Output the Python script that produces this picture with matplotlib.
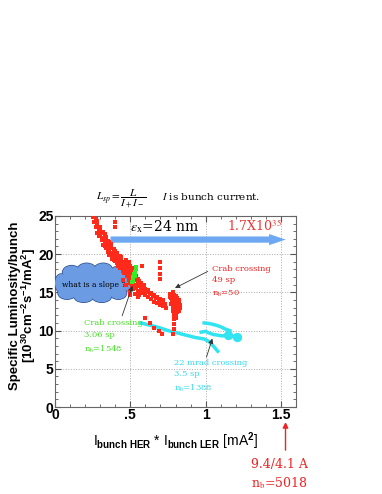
import matplotlib
matplotlib.use('Agg')
import matplotlib.pyplot as plt
from matplotlib.patches import Ellipse
from matplotlib.ticker import MultipleLocator

plt.rcParams['font.family'] = ['Liberation Sans', 'DejaVu Sans']
plt.rcParams['mathtext.fontset'] = 'custom'
plt.rcParams['mathtext.rm'] = 'Liberation Sans:bold'
plt.rcParams['mathtext.it'] = 'Liberation Sans:bold'
plt.rcParams['mathtext.bf'] = 'Liberation Sans:bold'

# crab crossing, 49 sp (red)
crab49 = [
    (0.25, 24.8), (0.26, 24.2), (0.27, 24.6), (0.27, 23.5), (0.28, 23.9), (0.28, 22.8),
    (0.29, 23.2), (0.30, 22.5), (0.30, 23.6), (0.31, 21.9), (0.31, 22.7), (0.32, 22.1),
    (0.32, 21.2), (0.33, 21.7), (0.33, 22.6), (0.34, 20.8), (0.34, 21.5), (0.35, 21.0),
    (0.35, 20.3), (0.36, 20.6), (0.36, 21.6), (0.37, 19.9), (0.37, 20.8), (0.38, 20.2),
    (0.38, 19.4), (0.39, 19.8), (0.39, 20.7), (0.40, 19.1), (0.40, 19.9), (0.41, 18.8),
    (0.41, 19.6), (0.42, 19.2), (0.42, 18.4), (0.43, 18.9), (0.43, 19.8), (0.44, 18.3),
    (0.44, 19.1), (0.45, 18.6), (0.45, 17.8), (0.46, 18.2), (0.46, 19.0), (0.47, 17.6),
    (0.47, 18.5), (0.48, 17.9), (0.48, 17.1), (0.48, 18.8), (0.49, 17.4), (0.49, 16.6),
    (0.49, 18.2), (0.50, 17.0), (0.50, 17.8), (0.50, 16.2), (0.51, 16.8), (0.51, 17.6),
    (0.51, 15.8), (0.52, 16.4), (0.52, 17.3), (0.52, 15.4), (0.53, 16.0), (0.53, 16.9),
    (0.53, 14.8), (0.54, 15.6), (0.54, 16.6), (0.55, 15.2), (0.55, 16.2), (0.56, 15.8),
    (0.56, 14.6), (0.57, 15.4), (0.58, 15.9), (0.58, 14.9), (0.59, 15.2), (0.60, 14.6),
    (0.61, 15.0), (0.62, 14.4), (0.63, 14.8), (0.64, 14.1), (0.65, 14.5), (0.66, 13.8),
    (0.67, 14.2), (0.68, 13.6), (0.69, 13.9), (0.70, 13.4), (0.71, 13.7), (0.72, 13.2),
    (0.73, 13.5), (0.74, 13.0),
    (0.26, 24.9), (0.28, 24.3), (0.29, 22.4), (0.30, 23.0), (0.32, 22.9), (0.33, 21.0),
    (0.34, 22.2), (0.35, 21.7), (0.36, 19.9), (0.37, 21.3), (0.39, 19.2), (0.40, 20.4),
    (0.41, 20.1), (0.42, 19.7), (0.43, 18.2), (0.44, 19.6), (0.46, 17.5), (0.47, 19.2),
    (0.49, 19.0), (0.50, 18.4), (0.51, 18.2), (0.52, 18.0), (0.53, 17.5), (0.54, 17.2),
    (0.55, 16.8), (0.56, 16.5), (0.55, 14.4), (0.57, 16.2), (0.59, 16.0), (0.60, 15.5),
    (0.62, 15.3), (0.64, 14.9), (0.66, 14.6), (0.68, 14.4), (0.70, 14.1), (0.72, 14.0),
    (0.76, 14.8), (0.77, 14.2), (0.77, 13.5), (0.78, 15.0), (0.78, 14.4), (0.78, 13.8),
    (0.78, 13.1), (0.78, 12.5), (0.79, 14.7), (0.79, 14.0), (0.79, 13.4), (0.79, 12.8),
    (0.79, 12.2), (0.80, 14.5), (0.80, 13.9), (0.80, 13.3), (0.80, 12.7), (0.80, 12.0),
    (0.81, 14.2), (0.81, 13.6), (0.81, 13.0), (0.81, 12.4), (0.82, 13.8), (0.82, 13.2),
    (0.82, 12.6), (0.83, 13.4), (0.83, 12.9), (0.765, 14.4), (0.775, 13.9), (0.785, 12.9),
    (0.795, 13.7), (0.805, 14.1), (0.815, 12.8), (0.825, 14.0), (0.805, 11.6), (0.79, 11.9),
    (0.79, 11.5), (0.79, 10.8), (0.79, 10.2), (0.78, 9.6), (0.60, 11.6), (0.63, 11.0),
    (0.66, 10.4), (0.69, 9.9), (0.71, 9.6),
    (0.70, 19.0), (0.70, 18.2), (0.70, 17.4), (0.70, 16.8), (0.40, 24.2), (0.40, 23.6),
    (0.58, 18.5), (0.45, 16.6), (0.47, 15.9), (0.50, 15.2), (0.50, 14.6),
]

# crab crossing, 3.06 sp (green)
crab306 = [(0.51, 16.3), (0.515, 16.7), (0.52, 17.0), (0.525, 17.4), (0.53, 17.7),
           (0.535, 18.0), (0.54, 18.3), (0.52, 16.5), (0.53, 17.2)]

# 22 mrad crossing, 3.5 sp (cyan)
mrad22_line = [(0.57, 11.0), (0.63, 10.7), (0.69, 10.4), (0.75, 10.0), (0.81, 9.7),
               (0.87, 9.4), (0.93, 9.1), (0.99, 8.9), (1.02, 8.6), (1.05, 8.0), (1.08, 7.3)]
mrad22_upper = [(0.99, 11.0), (1.03, 10.9), (1.07, 10.7), (1.10, 10.5), (1.13, 10.2), (1.16, 10.0)]
mrad22_lower = [(0.97, 9.8), (1.00, 9.9), (1.02, 9.7), (1.05, 9.5), (1.08, 9.4), (1.11, 9.3),
                (1.14, 9.4), (1.17, 9.2), (1.20, 9.3)]
mrad22_big = [(1.15, 9.4), (1.21, 9.2)]

xticks = [0, 0.5, 1, 1.5]
xticklabels = ['0', '.5', '1', '1.5']
yticks = [0, 5, 10, 15, 20, 25]

fig = plt.figure(figsize=(3.82, 4.94), dpi=100)
ax = fig.add_axes([0.144, 0.176, 0.631, 0.387])

ax.scatter([p[0] for p in crab49], [p[1] for p in crab49], s=5, marker='s', color='#ff2a1a', linewidths=0, zorder=7)
ax.scatter([p[0] for p in crab306], [p[1] for p in crab306], s=6, marker='s', color='#33ee22', linewidths=0, zorder=8)
cyan = '#30e4f2'
for series in (mrad22_line, mrad22_upper, mrad22_lower):
    ax.plot([p[0] for p in series], [p[1] for p in series], color=cyan, lw=2.5, zorder=3)
ax.scatter([p[0] for p in mrad22_big], [p[1] for p in mrad22_big], s=45, marker='o', color=cyan, linewidths=0, zorder=3)

ax.set_xlim(0, 1.6)
ax.set_ylim(0, 25)
ax.set_xticks(xticks)
ax.set_xticklabels(xticklabels)
ax.set_yticks(yticks)
ax.xaxis.set_minor_locator(MultipleLocator(0.1))
ax.yaxis.set_minor_locator(MultipleLocator(1))
ax.tick_params(which='both', direction='in', top=True, right=True, color='#555555')
ax.tick_params(which='major', length=4, labelsize=10, pad=1)
ax.tick_params(which='minor', length=2)
for lbl in ax.get_xticklabels() + ax.get_yticklabels():
    lbl.set_fontweight('bold')
ax.grid(True, which='major', linestyle=':', color='#aaaaaa', linewidth=0.7)
for sp in ax.spines.values():
    sp.set_color('#666666')

ax.set_xlabel(r'I$_{\rm bunch\ HER}$ * I$_{\rm bunch\ LER}$ [mA$^2$]', fontsize=10, labelpad=6)
ax.set_ylabel('Specific Luminosity/bunch\n' + r'[10$^{30}$cm$^{-2}$s$^{-1}$/mA$^2$]',
              fontsize=9.5, fontweight='bold', linespacing=0.9)
ax.yaxis.set_label_coords(-0.072, 0.53)

# cloud
bumps = [(0.27, 16.2, 0.44, 3.6), (0.11, 17.6, 0.12, 1.8), (0.21, 18.0, 0.12, 1.6),
         (0.32, 18.0, 0.12, 1.6), (0.42, 17.5, 0.11, 1.8), (0.08, 14.9, 0.12, 1.6),
         (0.19, 14.5, 0.13, 1.6), (0.31, 14.5, 0.13, 1.6), (0.42, 14.9, 0.11, 1.6),
         (0.04, 16.2, 0.08, 2.4), (0.48, 16.3, 0.07, 2.2)]
for cx, cy, w, h in bumps:
    ax.add_patch(Ellipse((cx, cy), w, h, facecolor='none', edgecolor='#2a4a8a', linewidth=1.0, zorder=4))
for cx, cy, w, h in bumps:
    ax.add_patch(Ellipse((cx, cy), w, h, facecolor='#6b9be2', edgecolor='none', zorder=5))
ax.text(0.26, 16.0, 'what is a slope ?', ha='center', va='center', fontsize=5.5,
        family='serif', math_fontfamily='stix', zorder=6)

# blue arrow
ax.annotate('', xy=(1.55, 21.9), xytext=(0.35, 21.9),
            arrowprops=dict(arrowstyle='simple,head_length=1.2,head_width=0.8,tail_width=0.45',
                            color='#6fa8f2', lw=0), zorder=4)
ax.text(0.5, 23.6, r'$\epsilon_{\rm x}$=24 nm', fontsize=10, family='serif', math_fontfamily='stix', va='center')
ax.text(1.14, 23.6, r'1.7X10$^{35}$', fontsize=9, family='serif', math_fontfamily='stix', color='#ee3333', va='center')

ser = dict(family='serif', math_fontfamily='stix', fontsize=6, va='top', linespacing=1.6)
ax.text(1.04, 18.6, 'Crab crossing\n49 sp\n' + r'n$_{\rm b}$=50', color='#ee2222', **ser)
ax.text(0.19, 11.5, 'Crab crossing\n3.06 sp\n' + r'n$_{\rm b}$=1548', color='#44dd22', **ser)
ax.text(0.79, 6.3, '22 mrad crossing\n3.5 sp\n' + r'n$_{\rm b}$=1388', color='#33d8f0', **ser)

arr = dict(arrowstyle='-|>', color='#333333', lw=0.6, mutation_scale=7)
ax.annotate('', xy=(0.78, 15.4), xytext=(1.03, 17.9), arrowprops=arr, zorder=9)
ax.annotate('', xy=(0.52, 16.2), xytext=(0.44, 11.6), arrowprops=arr, zorder=9)
ax.annotate('', xy=(1.05, 9.3), xytext=(1.0, 6.2), arrowprops=arr, zorder=9)

# bottom red arrow and label
ax.annotate('', xy=(1.53, -1.6), xytext=(1.53, -6.0), xycoords='data', annotation_clip=False,
            arrowprops=dict(arrowstyle='-|>', color='#ee2222', lw=1.0, mutation_scale=8))
ax.text(1.3, -6.6, '9.4/4.1 A\n' + r'n$_{\rm b}$=5018', color='#ee2222', fontsize=9,
        family='serif', math_fontfamily='stix', va='top', linespacing=1.4, clip_on=False)

# formula
fig.text(0.25, 0.597, r'$L_{sp} = \dfrac{L}{I_+ I_-}$', fontsize=8, family='serif',
         math_fontfamily='stix', va='center')
fig.text(0.425, 0.602, r'$I$ is bunch current.', fontsize=7.5, family='serif',
         math_fontfamily='stix', va='center')

fig.savefig('out.png', dpi=100)
